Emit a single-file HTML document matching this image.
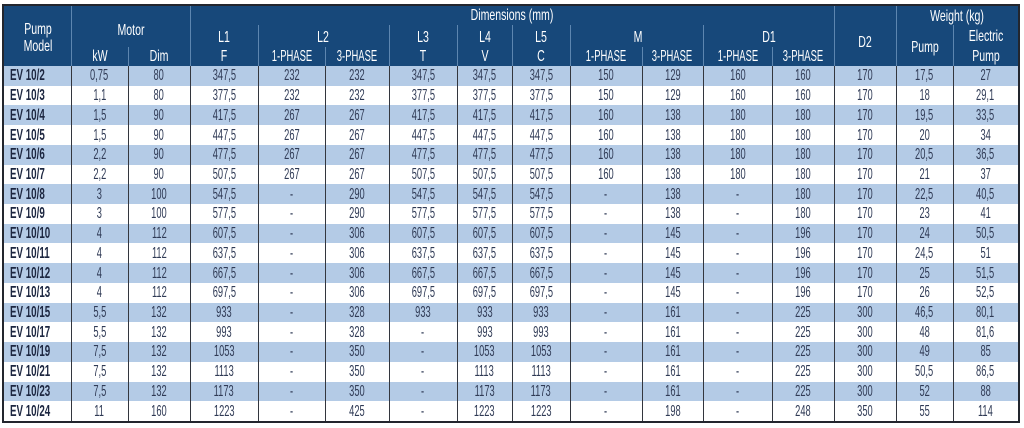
<!DOCTYPE html>
<html><head><meta charset="utf-8">
<style>
html,body{margin:0;padding:0;background:#fff;}
body{width:1024px;height:428px;position:relative;overflow:hidden;font-family:"Liberation Sans",sans-serif;}
#box{position:absolute;left:2px;top:4px;width:1018px;height:419px;border:2px solid #23262e;box-sizing:border-box;}
#hdr{position:absolute;left:0;top:0;width:1014px;height:60px;background:#17487a;}
.h{position:absolute;color:#fff;font-size:16px;line-height:16px;white-space:nowrap;transform:translate(-50%,-50%) scaleX(.66);}
.h.p{transform:translate(-50%,-50%) scaleX(.59);}
.hl{position:absolute;width:1px;background:#5d86b0;}
table{position:absolute;left:0;top:60px;width:1014px;border-collapse:collapse;table-layout:fixed;}
td{padding:0;height:19.72px;font-size:15.5px;line-height:15px;color:#2f3a55;text-align:center;white-space:nowrap;overflow:visible;}
td span{display:inline-block;transform:scaleX(.6);}
td.m{text-align:left;padding-left:6px;}
td.m span{transform-origin:left center;font-weight:bold;color:#1c2640;transform:scaleX(.63);}
tr:nth-child(odd) td{background:#b4cbe6;}
tr:nth-child(even) td{background:#fff;}
.vl{position:absolute;top:60px;height:355px;width:1px;background:#33363e;}
</style></head><body>
<div id="box">
<div id="hdr">
<div class="hl" style="left:67px;top:0;height:60px"></div>
<div class="hl" style="left:124px;top:41px;height:19px"></div>
<div class="hl" style="left:186px;top:0;height:60px"></div>
<div class="hl" style="left:254px;top:19px;height:41px"></div>
<div class="hl" style="left:321px;top:41px;height:19px"></div>
<div class="hl" style="left:385px;top:19px;height:41px"></div>
<div class="hl" style="left:453px;top:19px;height:41px"></div>
<div class="hl" style="left:508px;top:19px;height:41px"></div>
<div class="hl" style="left:566px;top:19px;height:41px"></div>
<div class="hl" style="left:638px;top:41px;height:19px"></div>
<div class="hl" style="left:699px;top:19px;height:41px"></div>
<div class="hl" style="left:768px;top:41px;height:19px"></div>
<div class="hl" style="left:830px;top:0;height:60px"></div>
<div class="hl" style="left:892px;top:0;height:60px"></div>
<div class="hl" style="left:949px;top:19px;height:41px"></div>

<div class="h" style="left:33.5px;top:24px">Pump</div>
<div class="h" style="left:33.5px;top:41px">Model</div>
<div class="h" style="left:126.5px;top:25px">Motor</div>
<div class="h" style="left:95.5px;top:51px">kW</div>
<div class="h" style="left:155px;top:51px">Dim</div>
<div class="h" style="left:508px;top:10px">Dimensions (mm)</div>
<div class="h" style="left:220px;top:32px">L1</div>
<div class="h" style="left:220px;top:51px">F</div>
<div class="h" style="left:319px;top:32px">L2</div>
<div class="h p" style="left:287.5px;top:51px">1-PHASE</div>
<div class="h p" style="left:353px;top:51px">3-PHASE</div>
<div class="h" style="left:419px;top:32px">L3</div>
<div class="h" style="left:419px;top:51px">T</div>
<div class="h" style="left:480.5px;top:32px">L4</div>
<div class="h" style="left:480.5px;top:51px">V</div>
<div class="h" style="left:537px;top:32px">L5</div>
<div class="h" style="left:537px;top:51px">C</div>
<div class="h" style="left:634px;top:32px">M</div>
<div class="h p" style="left:602px;top:51px">1-PHASE</div>
<div class="h p" style="left:668px;top:51px">3-PHASE</div>
<div class="h" style="left:765px;top:32px">D1</div>
<div class="h p" style="left:733.5px;top:51px">1-PHASE</div>
<div class="h p" style="left:799px;top:51px">3-PHASE</div>
<div class="h" style="left:861px;top:37px">D2</div>
<div class="h" style="left:953px;top:11px">Weight (kg)</div>
<div class="h" style="left:920.5px;top:42px">Pump</div>
<div class="h" style="left:982px;top:31px">Electric</div>
<div class="h" style="left:982px;top:51px">Pump</div>
</div>

<table>
<colgroup><col style="width:67px"><col style="width:57px"><col style="width:62px"><col style="width:68px"><col style="width:67px"><col style="width:64px"><col style="width:68px"><col style="width:55px"><col style="width:58px"><col style="width:72px"><col style="width:61px"><col style="width:69px"><col style="width:62px"><col style="width:62px"><col style="width:57px"><col style="width:65px"></colgroup>
<tr><td class="m"><span>EV 10/2</span></td><td><span>0,75</span></td><td><span>80</span></td><td><span>347,5</span></td><td><span>232</span></td><td><span>232</span></td><td><span>347,5</span></td><td><span>347,5</span></td><td><span>347,5</span></td><td><span>150</span></td><td><span>129</span></td><td><span>160</span></td><td><span>160</span></td><td><span>170</span></td><td><span>17,5</span></td><td><span>27</span></td></tr>
<tr><td class="m"><span>EV 10/3</span></td><td><span>1,1</span></td><td><span>80</span></td><td><span>377,5</span></td><td><span>232</span></td><td><span>232</span></td><td><span>377,5</span></td><td><span>377,5</span></td><td><span>377,5</span></td><td><span>150</span></td><td><span>129</span></td><td><span>160</span></td><td><span>160</span></td><td><span>170</span></td><td><span>18</span></td><td><span>29,1</span></td></tr>
<tr><td class="m"><span>EV 10/4</span></td><td><span>1,5</span></td><td><span>90</span></td><td><span>417,5</span></td><td><span>267</span></td><td><span>267</span></td><td><span>417,5</span></td><td><span>417,5</span></td><td><span>417,5</span></td><td><span>160</span></td><td><span>138</span></td><td><span>180</span></td><td><span>180</span></td><td><span>170</span></td><td><span>19,5</span></td><td><span>33,5</span></td></tr>
<tr><td class="m"><span>EV 10/5</span></td><td><span>1,5</span></td><td><span>90</span></td><td><span>447,5</span></td><td><span>267</span></td><td><span>267</span></td><td><span>447,5</span></td><td><span>447,5</span></td><td><span>447,5</span></td><td><span>160</span></td><td><span>138</span></td><td><span>180</span></td><td><span>180</span></td><td><span>170</span></td><td><span>20</span></td><td><span>34</span></td></tr>
<tr><td class="m"><span>EV 10/6</span></td><td><span>2,2</span></td><td><span>90</span></td><td><span>477,5</span></td><td><span>267</span></td><td><span>267</span></td><td><span>477,5</span></td><td><span>477,5</span></td><td><span>477,5</span></td><td><span>160</span></td><td><span>138</span></td><td><span>180</span></td><td><span>180</span></td><td><span>170</span></td><td><span>20,5</span></td><td><span>36,5</span></td></tr>
<tr><td class="m"><span>EV 10/7</span></td><td><span>2,2</span></td><td><span>90</span></td><td><span>507,5</span></td><td><span>267</span></td><td><span>267</span></td><td><span>507,5</span></td><td><span>507,5</span></td><td><span>507,5</span></td><td><span>160</span></td><td><span>138</span></td><td><span>180</span></td><td><span>180</span></td><td><span>170</span></td><td><span>21</span></td><td><span>37</span></td></tr>
<tr><td class="m"><span>EV 10/8</span></td><td><span>3</span></td><td><span>100</span></td><td><span>547,5</span></td><td><span>-</span></td><td><span>290</span></td><td><span>547,5</span></td><td><span>547,5</span></td><td><span>547,5</span></td><td><span>-</span></td><td><span>138</span></td><td><span>-</span></td><td><span>180</span></td><td><span>170</span></td><td><span>22,5</span></td><td><span>40,5</span></td></tr>
<tr><td class="m"><span>EV 10/9</span></td><td><span>3</span></td><td><span>100</span></td><td><span>577,5</span></td><td><span>-</span></td><td><span>290</span></td><td><span>577,5</span></td><td><span>577,5</span></td><td><span>577,5</span></td><td><span>-</span></td><td><span>138</span></td><td><span>-</span></td><td><span>180</span></td><td><span>170</span></td><td><span>23</span></td><td><span>41</span></td></tr>
<tr><td class="m"><span>EV 10/10</span></td><td><span>4</span></td><td><span>112</span></td><td><span>607,5</span></td><td><span>-</span></td><td><span>306</span></td><td><span>607,5</span></td><td><span>607,5</span></td><td><span>607,5</span></td><td><span>-</span></td><td><span>145</span></td><td><span>-</span></td><td><span>196</span></td><td><span>170</span></td><td><span>24</span></td><td><span>50,5</span></td></tr>
<tr><td class="m"><span>EV 10/11</span></td><td><span>4</span></td><td><span>112</span></td><td><span>637,5</span></td><td><span>-</span></td><td><span>306</span></td><td><span>637,5</span></td><td><span>637,5</span></td><td><span>637,5</span></td><td><span>-</span></td><td><span>145</span></td><td><span>-</span></td><td><span>196</span></td><td><span>170</span></td><td><span>24,5</span></td><td><span>51</span></td></tr>
<tr><td class="m"><span>EV 10/12</span></td><td><span>4</span></td><td><span>112</span></td><td><span>667,5</span></td><td><span>-</span></td><td><span>306</span></td><td><span>667,5</span></td><td><span>667,5</span></td><td><span>667,5</span></td><td><span>-</span></td><td><span>145</span></td><td><span>-</span></td><td><span>196</span></td><td><span>170</span></td><td><span>25</span></td><td><span>51,5</span></td></tr>
<tr><td class="m"><span>EV 10/13</span></td><td><span>4</span></td><td><span>112</span></td><td><span>697,5</span></td><td><span>-</span></td><td><span>306</span></td><td><span>697,5</span></td><td><span>697,5</span></td><td><span>697,5</span></td><td><span>-</span></td><td><span>145</span></td><td><span>-</span></td><td><span>196</span></td><td><span>170</span></td><td><span>26</span></td><td><span>52,5</span></td></tr>
<tr><td class="m"><span>EV 10/15</span></td><td><span>5,5</span></td><td><span>132</span></td><td><span>933</span></td><td><span>-</span></td><td><span>328</span></td><td><span>933</span></td><td><span>933</span></td><td><span>933</span></td><td><span>-</span></td><td><span>161</span></td><td><span>-</span></td><td><span>225</span></td><td><span>300</span></td><td><span>46,5</span></td><td><span>80,1</span></td></tr>
<tr><td class="m"><span>EV 10/17</span></td><td><span>5,5</span></td><td><span>132</span></td><td><span>993</span></td><td><span>-</span></td><td><span>328</span></td><td><span>-</span></td><td><span>993</span></td><td><span>993</span></td><td><span>-</span></td><td><span>161</span></td><td><span>-</span></td><td><span>225</span></td><td><span>300</span></td><td><span>48</span></td><td><span>81,6</span></td></tr>
<tr><td class="m"><span>EV 10/19</span></td><td><span>7,5</span></td><td><span>132</span></td><td><span>1053</span></td><td><span>-</span></td><td><span>350</span></td><td><span>-</span></td><td><span>1053</span></td><td><span>1053</span></td><td><span>-</span></td><td><span>161</span></td><td><span>-</span></td><td><span>225</span></td><td><span>300</span></td><td><span>49</span></td><td><span>85</span></td></tr>
<tr><td class="m"><span>EV 10/21</span></td><td><span>7,5</span></td><td><span>132</span></td><td><span>1113</span></td><td><span>-</span></td><td><span>350</span></td><td><span>-</span></td><td><span>1113</span></td><td><span>1113</span></td><td><span>-</span></td><td><span>161</span></td><td><span>-</span></td><td><span>225</span></td><td><span>300</span></td><td><span>50,5</span></td><td><span>86,5</span></td></tr>
<tr><td class="m"><span>EV 10/23</span></td><td><span>7,5</span></td><td><span>132</span></td><td><span>1173</span></td><td><span>-</span></td><td><span>350</span></td><td><span>-</span></td><td><span>1173</span></td><td><span>1173</span></td><td><span>-</span></td><td><span>161</span></td><td><span>-</span></td><td><span>225</span></td><td><span>300</span></td><td><span>52</span></td><td><span>88</span></td></tr>
<tr><td class="m"><span>EV 10/24</span></td><td><span>11</span></td><td><span>160</span></td><td><span>1223</span></td><td><span>-</span></td><td><span>425</span></td><td><span>-</span></td><td><span>1223</span></td><td><span>1223</span></td><td><span>-</span></td><td><span>198</span></td><td><span>-</span></td><td><span>248</span></td><td><span>350</span></td><td><span>55</span></td><td><span>114</span></td></tr>
</table>

<div class="vl" style="left:67px"></div>
<div class="vl" style="left:124px"></div>
<div class="vl" style="left:186px"></div>
<div class="vl" style="left:254px"></div>
<div class="vl" style="left:321px"></div>
<div class="vl" style="left:385px"></div>
<div class="vl" style="left:453px"></div>
<div class="vl" style="left:508px"></div>
<div class="vl" style="left:566px"></div>
<div class="vl" style="left:638px"></div>
<div class="vl" style="left:699px"></div>
<div class="vl" style="left:768px"></div>
<div class="vl" style="left:830px"></div>
<div class="vl" style="left:892px"></div>
<div class="vl" style="left:949px"></div>
</div>
</body></html>
